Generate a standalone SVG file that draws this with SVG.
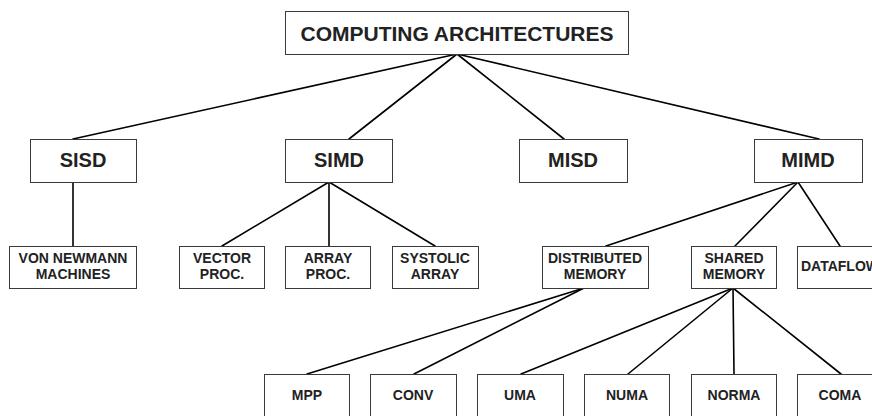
<svg xmlns="http://www.w3.org/2000/svg" width="872" height="416" viewBox="0 0 872 416">
  <style>
    .box { fill: #ffffff; stroke: #3a3a3a; stroke-width: 1; }
    .link { stroke: #000000; stroke-width: 1.6; fill: none; stroke-linecap: round; }
    text { font-family: "Liberation Sans", Arial, sans-serif; font-weight: bold; fill: #222222; text-anchor: middle; }
    .t1 { font-size: 21px; }
    .t2 { font-size: 20px; }
    .t3 { font-size: 14px; }
  </style>
  <rect width="872" height="416" fill="#ffffff"/>

  <!-- connectors -->
  <g id="connectors">
    <line class="link" x1="457" y1="54" x2="73" y2="139"/>
    <line class="link" x1="457" y1="54" x2="349" y2="139"/>
    <line class="link" x1="457" y1="54" x2="564" y2="139"/>
    <line class="link" x1="457" y1="54" x2="819" y2="139"/>

    <line class="link" x1="73" y1="182" x2="73" y2="246"/>

    <line class="link" x1="329" y1="182" x2="222" y2="246"/>
    <line class="link" x1="329" y1="182" x2="329" y2="246"/>
    <line class="link" x1="329" y1="182" x2="435" y2="246"/>

    <line class="link" x1="798" y1="182" x2="606" y2="246"/>
    <line class="link" x1="798" y1="182" x2="735" y2="246"/>
    <line class="link" x1="798" y1="182" x2="840" y2="246"/>

    <line class="link" x1="584" y1="288" x2="307" y2="374"/>
    <line class="link" x1="584" y1="288" x2="414" y2="374"/>

    <line class="link" x1="733" y1="288" x2="521" y2="374"/>
    <line class="link" x1="733" y1="288" x2="628" y2="374"/>
    <line class="link" x1="733" y1="288" x2="734" y2="374"/>
    <line class="link" x1="733" y1="288" x2="841" y2="374"/>
  </g>

  <!-- root -->
  <g id="computing-architectures">
    <rect class="box" x="285.5" y="11.5" width="343" height="43"/>
    <text class="t1" x="457" y="41">COMPUTING ARCHITECTURES</text>
  </g>

  <!-- second level -->
  <g id="sisd">
    <rect class="box" x="30.5" y="139.5" width="106" height="43"/>
    <text class="t2" x="83" y="167">SISD</text>
  </g>
  <g id="simd">
    <rect class="box" x="285.5" y="139.5" width="107" height="43"/>
    <text class="t2" x="339" y="167">SIMD</text>
  </g>
  <g id="misd">
    <rect class="box" x="519.5" y="139.5" width="108" height="43"/>
    <text class="t2" x="573" y="167">MISD</text>
  </g>
  <g id="mimd">
    <rect class="box" x="754.5" y="139.5" width="108" height="43"/>
    <text class="t2" x="808" y="167">MIMD</text>
  </g>

  <!-- third level -->
  <g id="von-newmann-machines">
    <rect class="box" x="9.5" y="246.5" width="127" height="42"/>
    <text class="t3" x="73" y="263">VON NEWMANN</text>
    <text class="t3" x="73" y="279">MACHINES</text>
  </g>
  <g id="vector-proc">
    <rect class="box" x="179.5" y="246.5" width="85" height="42"/>
    <text class="t3" x="222" y="263">VECTOR</text>
    <text class="t3" x="222" y="279">PROC.</text>
  </g>
  <g id="array-proc">
    <rect class="box" x="285.5" y="246.5" width="85" height="42"/>
    <text class="t3" x="328" y="263">ARRAY</text>
    <text class="t3" x="328" y="279">PROC.</text>
  </g>
  <g id="systolic-array">
    <rect class="box" x="392.5" y="246.5" width="86" height="42"/>
    <text class="t3" x="435" y="263">SYSTOLIC</text>
    <text class="t3" x="435" y="279">ARRAY</text>
  </g>
  <g id="distributed-memory">
    <rect class="box" x="542.5" y="246.5" width="106" height="42"/>
    <text class="t3" x="595" y="263">DISTRIBUTED</text>
    <text class="t3" x="595" y="279">MEMORY</text>
  </g>
  <g id="shared-memory">
    <rect class="box" x="691.5" y="246.5" width="85" height="42"/>
    <text class="t3" x="734" y="263">SHARED</text>
    <text class="t3" x="734" y="279">MEMORY</text>
  </g>
  <g id="dataflow">
    <rect class="box" x="797.5" y="246.5" width="85" height="42"/>
    <text class="t3" x="840" y="271">DATAFLOW</text>
  </g>

  <!-- fourth level -->
  <g id="mpp">
    <rect class="box" x="264.5" y="374.5" width="85" height="42"/>
    <text class="t3" x="307" y="400">MPP</text>
  </g>
  <g id="conv">
    <rect class="box" x="370.5" y="374.5" width="86" height="42"/>
    <text class="t3" x="413" y="400">CONV</text>
  </g>
  <g id="uma">
    <rect class="box" x="477.5" y="374.5" width="86" height="42"/>
    <text class="t3" x="520" y="400">UMA</text>
  </g>
  <g id="numa">
    <rect class="box" x="584.5" y="374.5" width="85" height="42"/>
    <text class="t3" x="627" y="400">NUMA</text>
  </g>
  <g id="norma">
    <rect class="box" x="691.5" y="374.5" width="85" height="42"/>
    <text class="t3" x="734" y="400">NORMA</text>
  </g>
  <g id="coma">
    <rect class="box" x="797.5" y="374.5" width="85" height="42"/>
    <text class="t3" x="840" y="400">COMA</text>
  </g>
</svg>
